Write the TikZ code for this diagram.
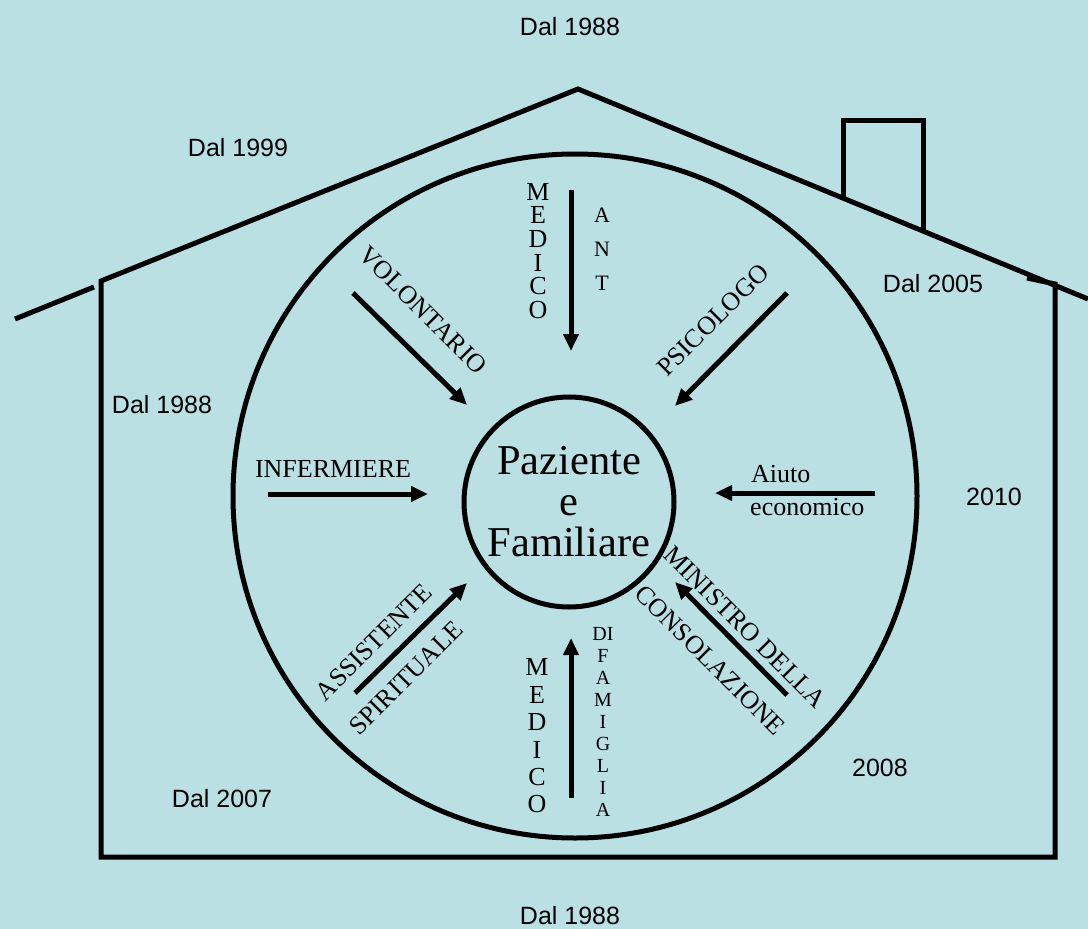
\documentclass[tikz,border=0pt]{standalone}
\usepackage{fontspec}
\setmainfont{Liberation Serif}
\newfontfamily\annofont{Liberation Sans}
\usetikzlibrary{arrows.meta}
\definecolor{sfondo}{RGB}{186,224,228}

\tikzset{
  muro/.style={line width=5pt, line join=miter},
  freccia/.style={line width=5pt, -{Triangle[length=17pt,width=15pt]}},
  anno/.style={font=\annofont\fontsize{25}{30}\selectfont},
  ruolo/.style={font=\fontsize{26}{30}\selectfont, inner sep=0pt},
}

\begin{document}
\begin{tikzpicture}[x=1pt,y=-1pt]
\fill[sfondo] (0,0) rectangle (1088,929);
\useasboundingbox (0,0) rectangle (1088,929);

% casa
\draw[muro] (1027,278) -- (1055,284) -- (1055,857) -- (101,857) -- (101,281) -- (578,89) -- (1088,299);
\draw[muro] (15,319) -- (94,287);
\draw[muro] (843,197) -- (843,120) -- (923,120) -- (923,230);

% cerchi
\draw[line width=5pt] (575,496) circle[radius=342pt];
\node[circle,draw,line width=5pt,minimum size=210pt,inner sep=0pt,align=center,
  font=\fontsize{42.5}{41}\selectfont] (paz) at (569,502) {Paziente\\e\\Familiare};

% frecce
\coordinate (volA) at (353,293);  \coordinate (volB) at (467,405);
\coordinate (antA) at (571,190);  \coordinate (antB) at (571,351);
\coordinate (psiA) at (787,293);  \coordinate (psiB) at (675,406);
\coordinate (infA) at (268,494);  \coordinate (infB) at (428,494);
\coordinate (aiuA) at (875,493);  \coordinate (aiuB) at (715,493);
\coordinate (assA) at (355,693);  \coordinate (assB) at (467,583);
\coordinate (famA) at (571,798);  \coordinate (famB) at (571,638);
\coordinate (minA) at (787,695);  \coordinate (minB) at (675,582);
\draw[freccia] (volA) -- (volB);
\draw[freccia] (antA) -- (antB);
\draw[freccia] (psiA) -- (psiB);
\draw[freccia] (infA) -- (infB);
\draw[freccia] (aiuA) -- (aiuB);
\draw[freccia] (assA) -- (assB);
\draw[freccia] (famA) -- (famB);
\draw[freccia] (minA) -- (minB);

% ruoli
\node[ruolo,align=center,font=\fontsize{26}{23.6}\selectfont] (med1) at (538,251) {M\\E\\D\\I\\C\\O};
\node[ruolo,align=center,font=\fontsize{22}{34}\selectfont] (ant) at (602,249) {A\\N\\T};
\node[ruolo,rotate=-45] (vol) at (423,310) {VOLONTARIO};
\node[ruolo,rotate=45] (psi) at (713,320) {PSICOLOGO};
\node[ruolo] (inf) at (333,469) {INFERMIERE};
\node[ruolo,anchor=west] (aiu1) at (751,474) {Aiuto};
\node[ruolo,anchor=west] (aiu2) at (750,507) {economico};
\node[ruolo,rotate=45] (ass1) at (374,642) {ASSISTENTE};
\node[ruolo,rotate=45] (ass2) at (406,678) {SPIRITUALE};
\node[ruolo,rotate=-45] (min1) at (745,627) {MINISTRO DELLA};
\node[ruolo,rotate=-45] (min2) at (710,660) {CONSOLAZIONE};
\node[ruolo,align=center,font=\fontsize{26}{27.4}\selectfont] (med2) at (537,736) {M\\E\\D\\I\\C\\O};
\node[ruolo,align=center,font=\fontsize{20}{21.9}\selectfont] (fam) at (603,722) {DI\\F\\A\\M\\I\\G\\L\\I\\A};

% anni
\node[anno] (a1) at (570,27) {Dal 1988};
\node[anno] (a2) at (238,148) {Dal 1999};
\node[anno] (a3) at (933,284) {Dal 2005};
\node[anno] (a4) at (162,405) {Dal 1988};
\node[anno] (a5) at (994,497) {2010};
\node[anno] (a6) at (880,768) {2008};
\node[anno] (a7) at (222,799) {Dal 2007};
\node[anno] (a8) at (570,916) {Dal 1988};

\end{tikzpicture}
\end{document}
